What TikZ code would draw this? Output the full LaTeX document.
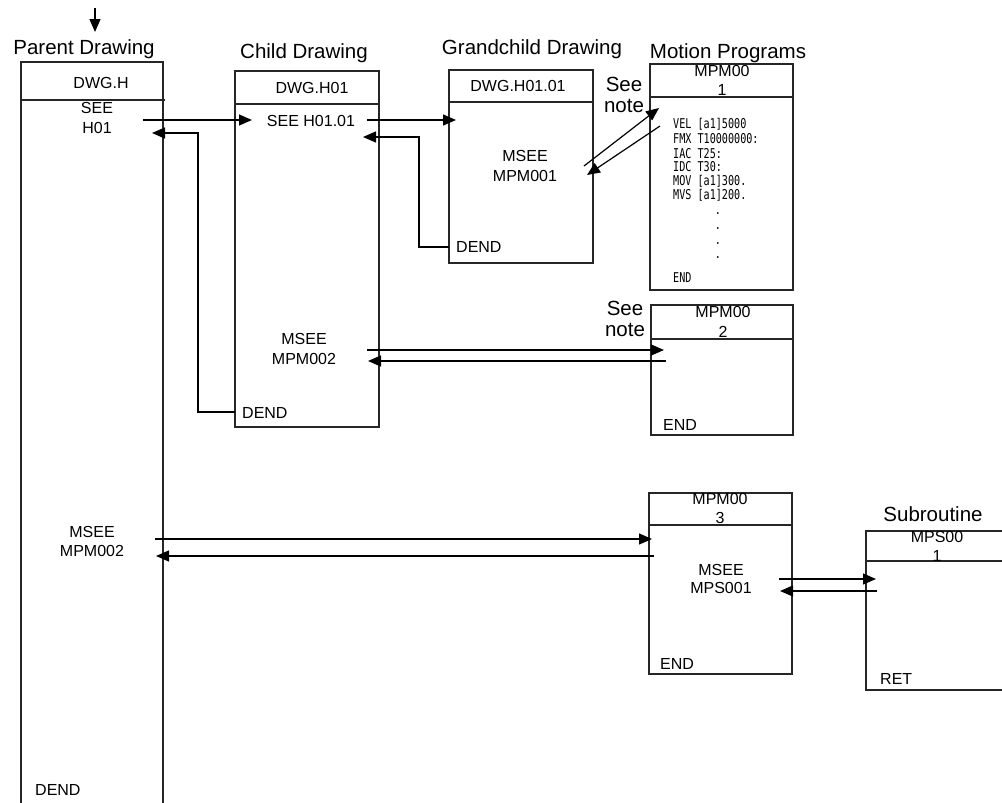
\documentclass[tikz,border=0pt]{standalone}
\usepackage{fontspec}
\usepackage{graphicx}
\setmainfont{Liberation Sans}
\newfontfamily\codefont{DejaVu Sans Mono}
\usetikzlibrary{arrows.meta}
\newcommand{\codeln}[1]{{\fontsize{13.5}{15}\codefont\scalebox{0.75}[1]{#1}}}
\tikzset{
 box/.style={line width=1.3pt, draw=black!85},
 conn/.style={line width=1.2pt, -{Triangle[length=13pt,width=11pt]}},
 title/.style={inner sep=0pt, anchor=base, font=\fontsize{20.5}{24}\selectfont},
 lbl/.style={inner sep=0pt, font=\fontsize{16}{19}\selectfont},
 lblw/.style={lbl, anchor=west},
 code/.style={inner sep=0pt, anchor=base west},
 dot/.style={inner sep=0pt, anchor=base},
}
\begin{document}
\begin{tikzpicture}[x=1pt,y=-1pt]
\useasboundingbox (0,0) rectangle (1002,803);

% ---- boxes ----
\draw[box] (21,803) -- (21,62) -- (163,62) -- (163,803);
\draw[box] (21,100) -- (165,100);
\draw[box] (235,71) rectangle (379,427);
\draw[box] (235,104) -- (379,104);
\draw[box] (449,70) rectangle (593,263);
\draw[box] (449,102) -- (593,102);
\draw[box] (650,64) rectangle (793,290);
\draw[box] (650,97) -- (793,97);
\draw[box] (651,305) rectangle (793,435);
\draw[box] (651,339) -- (793,339);
\draw[box] (649,493) rectangle (792,674);
\draw[box] (649,525) -- (792,525);
\draw[box] (1002,531) -- (866,531) -- (866,690) -- (1002,690);
\draw[box] (866,561) -- (1002,561);

% ---- titles ----
\node[title] (tparent) at (84,54) {Parent Drawing};
\node[title] (tchild) at (304,58) {Child Drawing};
\node[title] (tgrand) at (532,54) {Grandchild Drawing};
\node[title] (tmotion) at (728,58) {Motion Programs};
\node[title] (tsub) at (933,521) {Subroutine};
\node[title] (see1) at (624,91) {See};
\node[title] (note1) at (624,112) {note};
\node[title] (see2) at (625,315) {See};
\node[title] (note2) at (625,336) {note};

% ---- parent ----
\node[lbl] (pdwg) at (101,83) {DWG.H};
\node[lbl] (psee) at (97,108) {SEE};
\node[lbl] (ph01) at (97,128) {H01};
\node[lbl] (pmsee) at (92,532) {MSEE};
\node[lbl] (pmpm) at (92,551) {MPM002};
\node[lblw] (pdend) at (35,790) {DEND};

% ---- child ----
\node[lbl] (cdwg) at (312,88) {DWG.H01};
\node[lbl] (csee) at (311,121) {SEE H01.01};
\node[lbl] (cmsee) at (304,339) {MSEE};
\node[lbl] (cmpm) at (304,359) {MPM002};
\node[lblw] (cdend) at (242,413) {DEND};

% ---- grandchild ----
\node[lbl] (gdwg) at (518,86) {DWG.H01.01};
\node[lbl] (gmsee) at (525,156) {MSEE};
\node[lbl] (gmpm) at (525,176) {MPM001};
\node[lblw] (gdend) at (456,247) {DEND};

% ---- motion program 1 ----
\node[lbl] (m1a) at (722,71) {MPM00};
\node[lbl] (m1b) at (722,90) {1};
\node[code] (c1) at (673,128) {\codeln{VEL [a1]5000}};
\node[code] (c2) at (673,143) {\codeln{FMX T10000000:}};
\node[code] (c3) at (673,158) {\codeln{IAC T25:}};
\node[code] (c4) at (673,171) {\codeln{IDC T30:}};
\node[code] (c5) at (673,185) {\codeln{MOV [a1]300.}};
\node[code] (c6) at (673,199) {\codeln{MVS [a1]200.}};
\node[dot] (d1) at (718,214) {\codeln{.}};
\node[dot] (d2) at (718,229) {\codeln{.}};
\node[dot] (d3) at (718,244) {\codeln{.}};
\node[dot] (d4) at (718,258) {\codeln{.}};
\node[code] (c7) at (673,282) {\codeln{END}};

% ---- motion program 2 ----
\node[lbl] (m2a) at (723,312) {MPM00};
\node[lbl] (m2b) at (723,332) {2};
\node[lblw] (m2end) at (663,425) {END};

% ---- motion program 3 ----
\node[lbl] (m3a) at (720,499) {MPM00};
\node[lbl] (m3b) at (720,518) {3};
\node[lbl] (m3msee) at (721,570) {MSEE};
\node[lbl] (m3mps) at (721,588) {MPS001};
\node[lblw] (m3end) at (660,664) {END};

% ---- subroutine ----
\node[lbl] (s1a) at (937,537) {MPS00};
\node[lbl] (s1b) at (937,556) {1};
\node[lblw] (sret) at (880,679) {RET};

% ---- connector end points ----
\coordinate (top0) at (95,8);
\coordinate (top1) at (95,32);
\coordinate (a1s) at (143,120);
\coordinate (a1e) at (252,120);
\coordinate (r1s) at (235,412);
\coordinate (r1c1) at (198,412);
\coordinate (r1c2) at (198,133);
\coordinate (r1e) at (152,133);
\coordinate (a2s) at (367,120);
\coordinate (a2e) at (456,120);
\coordinate (r2s) at (449,247);
\coordinate (r2c1) at (419,247);
\coordinate (r2c2) at (419,137);
\coordinate (r2e) at (363,137);
\coordinate (d1s) at (584,166);
\coordinate (d1e) at (659,108);
\coordinate (d2s) at (660,126);
\coordinate (d2e) at (587,175);
\coordinate (a3s) at (367,350);
\coordinate (a3e) at (664,350);
\coordinate (r3s) at (666,361);
\coordinate (r3e) at (368,361);
\coordinate (a4s) at (155,539);
\coordinate (a4e) at (652,539);
\coordinate (r4s) at (654,556);
\coordinate (r4e) at (156,556);
\coordinate (a5s) at (779,579);
\coordinate (a5e) at (876,579);
\coordinate (r5s) at (877,591);
\coordinate (r5e) at (780,591);

% ---- connectors ----
\draw[conn] (top0) -- (top1);
\draw[conn] (a1s) -- (a1e);
\draw[conn] (r1s) -- (r1c1) -- (r1c2) -- (r1e);
\draw[conn] (a2s) -- (a2e);
\draw[conn] (r2s) -- (r2c1) -- (r2c2) -- (r2e);
\draw[conn] (d1s) -- (d1e);
\draw[conn] (d2s) -- (d2e);
\draw[conn] (a3s) -- (a3e);
\draw[conn] (r3s) -- (r3e);
\draw[conn] (a4s) -- (a4e);
\draw[conn] (r4s) -- (r4e);
\draw[conn] (a5s) -- (a5e);
\draw[conn] (r5s) -- (r5e);
\end{tikzpicture}
\end{document}
